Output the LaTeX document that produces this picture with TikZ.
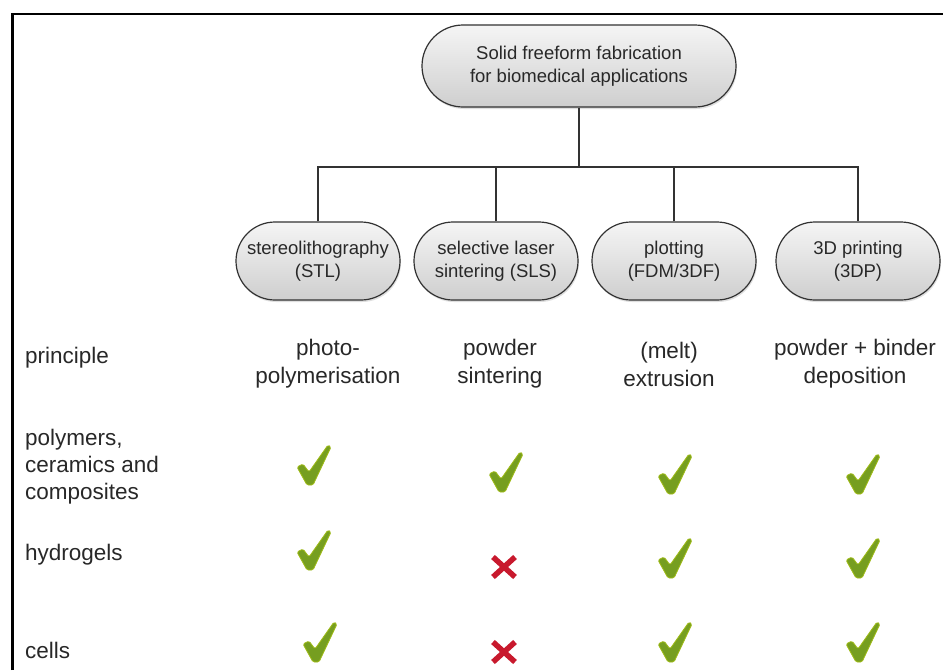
\documentclass[tikz,border=0pt]{standalone}
\usepackage{fontspec}
\setmainfont{Liberation Sans}
\usetikzlibrary{shadows}
\definecolor{chkc}{RGB}{118,158,32}
\definecolor{crsc}{RGB}{200,25,45}
\definecolor{lnc}{RGB}{50,50,50}
\definecolor{txc}{RGB}{40,40,40}
\begin{document}
\begin{tikzpicture}[x=1pt,y=-1pt,
  pill/.style={draw=lnc, line width=1.2pt, rounded corners=39pt,
    top color=gray!8, bottom color=gray!38,
    minimum width=164pt, minimum height=78pt, align=center, inner sep=2pt,
    text=txc, font=\fontsize{18.5}{23}\selectfont,
    drop shadow={shadow xshift=1pt, shadow yshift=-2pt, opacity=0.25}},
  conn/.style={draw=lnc, line width=1.6pt},
  lbl/.style={anchor=west, align=left, inner sep=0pt, text=txc,
    font=\fontsize{22.5}{27}\selectfont},
  col/.style={align=center, inner sep=0pt, text=txc,
    font=\fontsize{22.5}{28}\selectfont},
  chk/.pic={\fill[chkc, draw=chkc!70!yellow, line width=0.8pt, rounded corners=1.5pt]
    (-17,1) -- (-11,-2) -- (-5,6) -- (14,-21) -- (17,-19) -- (-1,19) -- (-7,19) -- cycle;},
  crs/.pic={\draw[crsc, line width=5.5pt] (-11,-10) -- (11,10) (-11,10) -- (11,-10);}
]
\useasboundingbox (0,0) rectangle (943,670);
\fill[white] (0,0) rectangle (943,670);
% frame
\draw[line width=2.5pt, line join=miter] (12.5,670) -- (12.5,14) -- (943,14);

% tree
\node[pill, minimum width=314pt, minimum height=82pt, rounded corners=41pt] (top) at (579,66)
  {Solid freeform fabrication\\for biomedical applications};
\node[pill] (stl) at (318,261) {stereolithography\\(STL)};
\node[pill] (sls) at (496,261) {selective laser\\sintering (SLS)};
\node[pill] (fdm) at (674,261) {plotting\\(FDM/3DF)};
\node[pill] (tdp) at (858,261) {3D printing\\(3DP)};
\coordinate (bar) at (579,167);
\draw[conn] (top.south) -- (bar);
\draw[conn] (stl.north) |- (bar) -| (tdp.north);
\draw[conn] (sls.north) -- (sls.north |- bar);
\draw[conn] (fdm.north) -- (fdm.north |- bar);

% row labels
\node[lbl] (pr) at (25,358) {principle};
\node[lbl] (pc) at (25,467) {polymers,\\ceramics and\\composites};
\node[lbl] (hy) at (25,555) {hydrogels};
\node[lbl] (ce) at (25,650) {cells};

% principles
\node[col] (p1) at (328,364) {photo-\\polymerisation};
\node[col] (p2) at (500,364) {powder\\sintering};
\node[col] (p3) at (669,364) {(melt)\\extrusion};
\node[col] (p4) at (855,364) {powder + binder\\deposition};

% marks
\pic at (314,466) {chk};
\pic at (506,473) {chk};
\pic at (675,475) {chk};
\pic at (863,475) {chk};
\pic at (314,551) {chk};
\pic at (504,567) {crs};
\pic at (675,559) {chk};
\pic at (863,559) {chk};
\pic at (320,643) {chk};
\pic at (504,652) {crs};
\pic at (675,643) {chk};
\pic at (863,643) {chk};
\end{tikzpicture}
\end{document}
